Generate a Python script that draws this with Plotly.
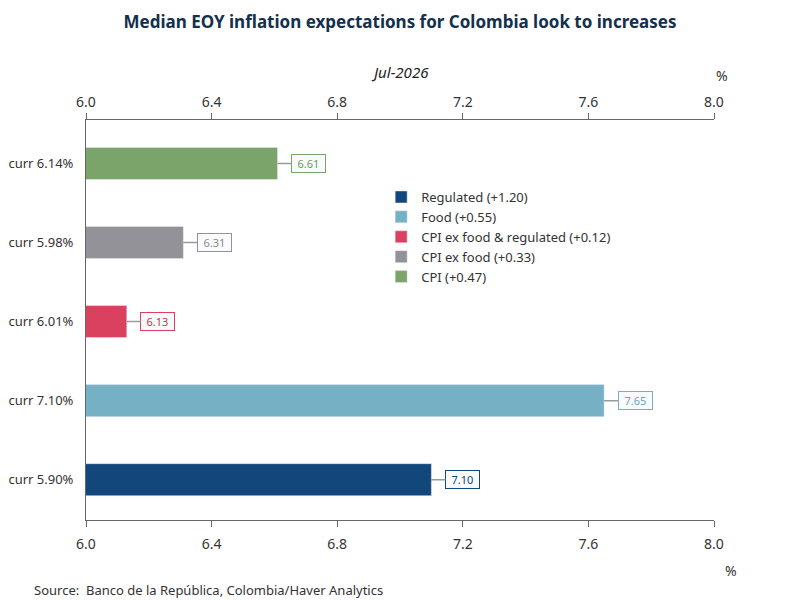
import plotly.graph_objects as go

# Data
series = ["Regulated (+1.20)", "Food (+0.55)", "CPI ex food & regulated (+0.12)",
          "CPI ex food (+0.33)", "CPI (+0.47)"]
current = ["curr 5.90%", "curr 7.10%", "curr 6.01%", "curr 5.98%", "curr 6.14%"]
expected = [7.10, 7.65, 6.13, 6.31, 6.61]
colors = ["#12477b", "#75b0c4", "#d9415e", "#929298", "#7ba46a"]
label_colors = ["#12477b", "#6aa6bb", "#c8334f", "#8a8a90", "#6f9a5e"]

x_ticks = [6.0, 6.4, 6.8, 7.2, 7.6, 8.0]

font = "Noto Sans"
fig = go.Figure()

for name, cat, val, col in zip(series, current, expected, colors):
    fig.add_trace(go.Bar(
        x=[val], y=[cat], name=name, orientation="h",
        marker_color=col, width=0.405, hoverinfo="x+name",
    ))

# dummy trace so the top axis gets drawn
fig.add_trace(go.Scatter(x=[6.0, 8.0], y=[current[0], current[0]], xaxis="x2",
                         mode="markers", marker_opacity=0, showlegend=False,
                         hoverinfo="skip"))

for cat, val, col, tcol in zip(current, expected, colors, label_colors):
    fig.add_annotation(
        x=val, y=cat, text=f"{val:.2f}", showarrow=True, arrowhead=0,
        arrowwidth=1.5, arrowcolor="#9a9a9a", ax=31, ay=0,
        width=29, height=13,
        font=dict(family=font, size=11, color=tcol),
        bgcolor="#f8fafb", bordercolor=col, borderwidth=1, borderpad=2,
    )

axis_style = dict(
    range=[6.0, 8.0], tickvals=x_ticks, ticktext=[f"{t:.1f}" for t in x_ticks],
    showgrid=False, zeroline=False, showline=True, linecolor="#666666",
    linewidth=1, ticks="outside", ticklen=6, tickcolor="#666666",
    tickfont=dict(family=font, size=14, color="#333333"), automargin=False,
)

# the page body adds ~8px offset, so margins are shifted to compensate
fig.update_layout(
    width=800, height=600,
    margin=dict(l=78, r=94, t=112, b=88),
    plot_bgcolor="white", paper_bgcolor="white",
    barmode="overlay",
    title=dict(text="<b>Median EOY inflation expectations for Colombia look to increases</b>",
               x=0.49, xanchor="center", y=0.977, yanchor="middle",
               font=dict(family=font, size=17, color="#13304f")),
    xaxis=dict(**axis_style, ticklabelstandoff=5),
    xaxis2=dict(**axis_style, overlaying="x", side="top", matches="x"),
    yaxis=dict(categoryorder="array", categoryarray=current, showgrid=False,
               showline=True, linecolor="#666666", linewidth=1, ticks="",
               ticklabelstandoff=9, automargin=False,
               tickfont=dict(family=font, size=13, color="#333333"),
               range=[-0.51, 4.55]),
    legend=dict(x=0.47, y=0.845, xanchor="left", yanchor="top",
                traceorder="normal", bgcolor="rgba(0,0,0,0)",
                font=dict(family=font, size=13, color="#333333"),
                itemwidth=30, tracegroupgap=0),
    showlegend=True,
)

fig.add_annotation(text="<i>Jul-2026</i>", xref="paper", yref="paper", x=0.5, y=1.12,
                   yanchor="middle", showarrow=False,
                   font=dict(family=font, size=15, color="#222222"))
fig.add_annotation(text="%", xref="paper", yref="paper", x=1.026, y=1.112,
                   yanchor="middle", showarrow=False,
                   font=dict(family=font, size=14, color="#333333"))
fig.add_annotation(text="%", xref="paper", yref="paper", x=1.040, y=-0.125,
                   yanchor="middle", showarrow=False,
                   font=dict(family=font, size=14, color="#333333"))
fig.add_annotation(text="Source:  Banco de la República, Colombia/Haver Analytics",
                   xref="paper", yref="paper", x=-0.086, y=-0.175, xanchor="left",
                   yanchor="middle", showarrow=False,
                   font=dict(family=font, size=13, color="#333333"))

fig.write_html("out.html")
